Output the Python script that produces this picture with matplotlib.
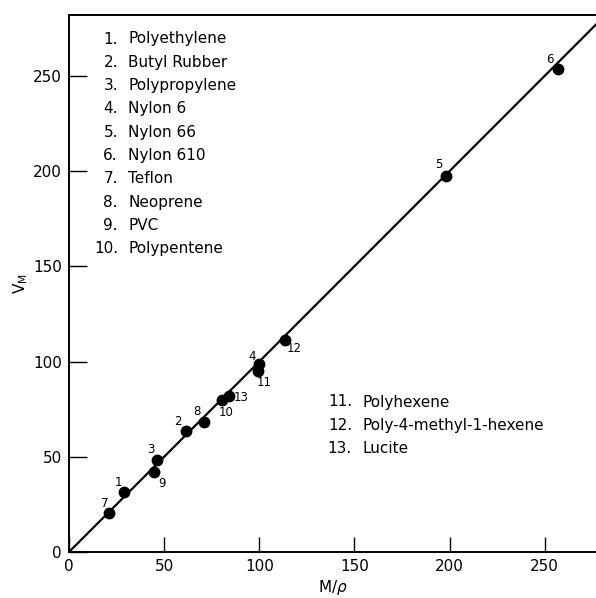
import matplotlib
matplotlib.use("Agg")
import matplotlib.pyplot as plt

plt.rcParams['font.family'] = ['DejaVu Sans']

# Data
labels = ["7", "1", "9", "3", "2", "8", "10", "13", "4", "11", "12", "5", "6"]
m_rho = [21, 29, 44.5, 46.5, 61.5, 71, 80.5, 84, 100, 99.5, 113.5, 198, 257]
v_m = [20.5, 31.5, 42, 48.5, 63.5, 68.5, 80, 82, 98.5, 95, 111.5, 197.5, 253.5]
# label offsets in points (dx, dy)
label_offsets = [(-3, 7), (-4, 7), (6, -8), (-5, 7), (-6, 7), (-5, 7), (3, -9),
                 (9, -1), (-5, 6), (4, -8), (7, -6), (-5, 8), (-6, 7)]
fit_x = [0, 280]
fit_y = [0, 280]

legend_upper = ["1.", "2.", "3.", "4.", "5.", "6.", "7.", "8.", "9.", "10."]
legend_upper_names = ["Polyethylene", "Butyl Rubber", "Polypropylene", "Nylon 6",
                      "Nylon 66", "Nylon 610", "Teflon", "Neoprene", "PVC",
                      "Polypentene"]
legend_lower = ["11.", "12.", "13."]
legend_lower_names = ["Polyhexene", "Poly-4-methyl-1-hexene", "Lucite"]

xticks = [0, 50, 100, 150, 200, 250]
yticks = [0, 50, 100, 150, 200, 250]

W, H = 596, 598
fig = plt.figure(figsize=(W / 100, H / 100), dpi=100)
left, right, top, bottom = 69, 596, 15, 552
ax = fig.add_axes([left / W, 1 - bottom / H, (right - left) / W, (bottom - top) / H])

ax.plot(fit_x, fit_y, color='black', lw=1.6, solid_capstyle='butt', clip_on=True)
ax.plot(m_rho, v_m, 'o', color='black', ms=7.5, zorder=3)

for lab, x, y, (dx, dy) in zip(labels, m_rho, v_m, label_offsets):
    ax.annotate(lab, (x, y), xytext=(dx, dy), textcoords='offset points',
                ha='center', va='center', fontsize=8.5)

ax.set_xlim(0, 277)
ax.set_ylim(0, 282)
ax.set_xticks(xticks)
ax.set_yticks(yticks)
ax.tick_params(direction='in', length=11, width=1, labelsize=11, pad=5)
ax.tick_params(axis='y', length=13)
ax.spines['right'].set_visible(False)
for s in ['left', 'bottom', 'top']:
    ax.spines[s].set_linewidth(1.4)

ax.set_xlabel(r'M/$\rho$', fontsize=11, labelpad=3)
ax.set_ylabel(r'V$_{\mathregular{M}}$', fontsize=11, labelpad=2)

def px(xp, yp):
    return ((xp - left) / (right - left), (bottom - yp) / (bottom - top))

row_y0, row_dy = 39, 23.3
for i, (n, name) in enumerate(zip(legend_upper, legend_upper_names)):
    yp = row_y0 + i * row_dy
    ax.text(*px(118, yp), n, transform=ax.transAxes, ha='right', va='center', fontsize=11)
    ax.text(*px(128, yp), name, transform=ax.transAxes, ha='left', va='center', fontsize=11)

row_y1 = 402
for i, (n, name) in enumerate(zip(legend_lower, legend_lower_names)):
    yp = row_y1 + i * row_dy
    ax.text(*px(352, yp), n, transform=ax.transAxes, ha='right', va='center', fontsize=11)
    ax.text(*px(362, yp), name, transform=ax.transAxes, ha='left', va='center', fontsize=11)

fig.savefig("out.png", dpi=100)
